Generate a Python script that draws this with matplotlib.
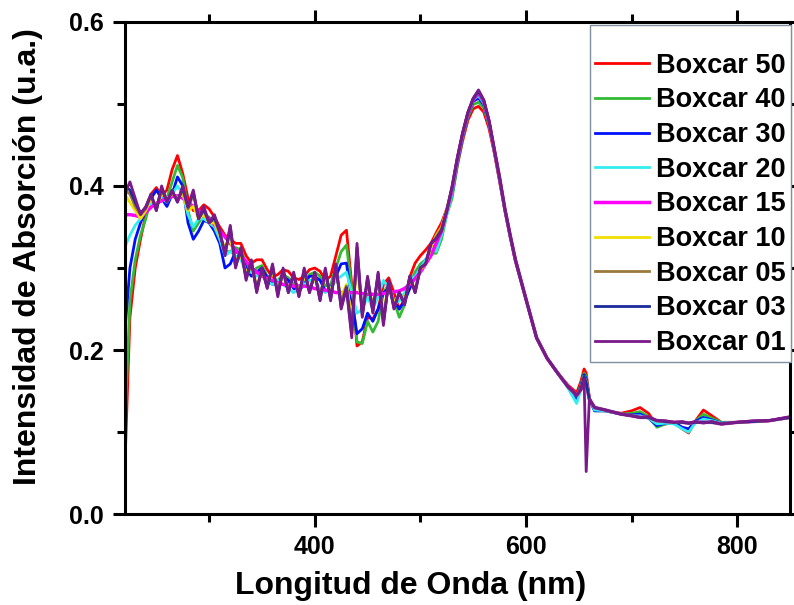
import numpy as np
import matplotlib.pyplot as plt
from matplotlib.ticker import MultipleLocator, FormatStrFormatter

plt.rcParams['font.family'] = ['Liberation Sans', 'DejaVu Sans']
plt.rcParams['font.weight'] = 'bold'

# wavelength grid (nm): 5 nm steps up to 525, then the peak / tail points
wl_front = list(range(220, 530, 5))
wl_tail = [530, 535, 540, 545, 550, 555, 560, 565, 570, 575, 580, 585, 590, 600, 610, 620,
           630, 640, 648, 652, 655, 657, 660, 665, 675, 690, 700, 708, 716, 724, 732, 740,
           748, 754, 760, 768, 776, 785, 800, 815, 830, 850]
wavelength = wl_front + wl_tail

labels = ['Boxcar 50', 'Boxcar 40', 'Boxcar 30', 'Boxcar 20', 'Boxcar 15',
          'Boxcar 10', 'Boxcar 05', 'Boxcar 03', 'Boxcar 01']

boxcar_50 = [
    0.05, 0.24, 0.30, 0.335, 0.365, 0.39, 0.398, 0.388, 0.395, 0.42,
    0.437, 0.415, 0.385, 0.37, 0.37, 0.377, 0.372, 0.362, 0.35, 0.34,
    0.335, 0.33, 0.33, 0.315, 0.306, 0.31, 0.31, 0.298, 0.289, 0.292,
    0.298, 0.296, 0.288, 0.286, 0.29, 0.298, 0.30, 0.296, 0.285, 0.29,
    0.315, 0.34, 0.346, 0.28, 0.205, 0.21, 0.24, 0.238, 0.25, 0.28,
    0.288, 0.27, 0.25, 0.262, 0.289, 0.306, 0.315, 0.322, 0.33, 0.343,
    0.355, 0.372,
    0.39, 0.425, 0.455, 0.48, 0.494, 0.497, 0.49, 0.47, 0.44, 0.405,
    0.37, 0.338, 0.308, 0.262, 0.215, 0.19, 0.172, 0.157, 0.148, 0.162,
    0.177, 0.172, 0.142, 0.128, 0.126, 0.123, 0.126, 0.13, 0.123, 0.108,
    0.11, 0.112, 0.104, 0.099, 0.113, 0.127, 0.12, 0.112, 0.112, 0.113,
    0.114, 0.118]

boxcar_40 = [
    0.10, 0.26, 0.31, 0.34, 0.36, 0.385, 0.395, 0.385, 0.385, 0.405,
    0.425, 0.41, 0.37, 0.345, 0.355, 0.365, 0.362, 0.352, 0.34, 0.32,
    0.32, 0.325, 0.322, 0.305, 0.295, 0.30, 0.303, 0.29, 0.282, 0.285,
    0.292, 0.288, 0.28, 0.278, 0.283, 0.292, 0.295, 0.29, 0.278, 0.28,
    0.30, 0.32, 0.328, 0.275, 0.21, 0.208, 0.235, 0.222, 0.235, 0.27,
    0.28, 0.26, 0.24, 0.255, 0.28, 0.295, 0.305, 0.31, 0.318, 0.318,
    0.335, 0.365,
    0.385, 0.425, 0.458, 0.484, 0.499, 0.502, 0.495, 0.474, 0.442, 0.407,
    0.37, 0.338, 0.309, 0.262, 0.215, 0.19, 0.172, 0.155, 0.142, 0.158,
    0.172, 0.168, 0.14, 0.126, 0.126, 0.122, 0.123, 0.125, 0.119, 0.106,
    0.11, 0.112, 0.105, 0.101, 0.113, 0.122, 0.117, 0.112, 0.112, 0.113,
    0.114, 0.118]

boxcar_30 = [
    0.22, 0.30, 0.335, 0.355, 0.37, 0.385, 0.395, 0.385, 0.375, 0.39,
    0.411, 0.40, 0.355, 0.335, 0.345, 0.358, 0.355, 0.345, 0.33, 0.30,
    0.305, 0.32, 0.318, 0.30, 0.29, 0.295, 0.30, 0.288, 0.28, 0.282,
    0.29, 0.285, 0.275, 0.272, 0.28, 0.29, 0.29, 0.285, 0.272, 0.275,
    0.29, 0.305, 0.306, 0.26, 0.22, 0.226, 0.245, 0.235, 0.25, 0.27,
    0.275, 0.26, 0.25, 0.26, 0.275, 0.29, 0.30, 0.31, 0.32, 0.33,
    0.345, 0.37,
    0.39, 0.428, 0.46, 0.486, 0.503, 0.507, 0.499, 0.476, 0.443, 0.408,
    0.371, 0.339, 0.309, 0.262, 0.215, 0.19, 0.172, 0.155, 0.14, 0.156,
    0.17, 0.165, 0.14, 0.126, 0.126, 0.122, 0.121, 0.122, 0.117, 0.108,
    0.111, 0.112, 0.106, 0.104, 0.113, 0.118, 0.115, 0.111, 0.112, 0.113,
    0.114, 0.118]

boxcar_20 = [
    0.325, 0.34, 0.352, 0.36, 0.37, 0.38, 0.375, 0.385, 0.38, 0.39,
    0.40, 0.39, 0.365, 0.35, 0.36, 0.36, 0.355, 0.35, 0.335, 0.315,
    0.32, 0.315, 0.31, 0.295, 0.295, 0.29, 0.295, 0.283, 0.28, 0.285,
    0.28, 0.275, 0.27, 0.275, 0.28, 0.285, 0.285, 0.275, 0.27, 0.275,
    0.285, 0.29, 0.295, 0.27, 0.245, 0.25, 0.265, 0.25, 0.265, 0.285,
    0.275, 0.255, 0.26, 0.27, 0.285, 0.29, 0.30, 0.31, 0.325, 0.32,
    0.34, 0.365,
    0.39, 0.43, 0.462, 0.487, 0.505, 0.51, 0.501, 0.477, 0.443, 0.409,
    0.371, 0.339, 0.309, 0.262, 0.215, 0.19, 0.172, 0.153, 0.135, 0.152,
    0.168, 0.162, 0.14, 0.127, 0.126, 0.122, 0.12, 0.12, 0.117, 0.11,
    0.111, 0.11, 0.104, 0.10, 0.111, 0.116, 0.114, 0.111, 0.112, 0.113,
    0.114, 0.118]

boxcar_15 = [
    0.365, 0.365, 0.364, 0.362, 0.368, 0.374, 0.379, 0.382, 0.385, 0.387,
    0.388, 0.385, 0.38, 0.375, 0.37, 0.365, 0.36, 0.353, 0.345, 0.338,
    0.33, 0.322, 0.315, 0.308, 0.30, 0.295, 0.29, 0.287, 0.285, 0.282,
    0.28, 0.279, 0.278, 0.278, 0.278, 0.277, 0.275, 0.274, 0.273, 0.272,
    0.27, 0.27, 0.27, 0.27, 0.27, 0.269, 0.268, 0.268, 0.268, 0.269,
    0.27, 0.271, 0.272, 0.275, 0.28, 0.287, 0.295, 0.305, 0.315, 0.33,
    0.345, 0.37,
    0.395, 0.432, 0.463, 0.488, 0.505, 0.513, 0.503, 0.478, 0.444, 0.41,
    0.372, 0.34, 0.31, 0.262, 0.215, 0.19, 0.172, 0.155, 0.145, 0.152,
    0.165, 0.16, 0.14, 0.13, 0.127, 0.122, 0.12, 0.118, 0.118, 0.114,
    0.113, 0.112, 0.112, 0.111, 0.112, 0.112, 0.112, 0.11, 0.112, 0.113,
    0.114, 0.118]

boxcar_10 = [
    0.39, 0.38, 0.37, 0.36, 0.37, 0.385, 0.375, 0.39, 0.385, 0.39,
    0.385, 0.39, 0.37, 0.375, 0.36, 0.365, 0.355, 0.355, 0.34, 0.325,
    0.335, 0.31, 0.315, 0.295, 0.30, 0.28, 0.295, 0.28, 0.295, 0.275,
    0.29, 0.275, 0.288, 0.272, 0.29, 0.275, 0.288, 0.268, 0.29, 0.27,
    0.295, 0.265, 0.28, 0.24, 0.30, 0.25, 0.28, 0.255, 0.285, 0.245,
    0.28, 0.258, 0.268, 0.262, 0.285, 0.275, 0.298, 0.305, 0.325, 0.34,
    0.35, 0.372,
    0.398, 0.433, 0.464, 0.489, 0.506, 0.515, 0.504, 0.479, 0.444, 0.41,
    0.372, 0.34, 0.31, 0.262, 0.215, 0.19, 0.172, 0.155, 0.145, 0.152,
    0.168, 0.16, 0.14, 0.13, 0.127, 0.122, 0.12, 0.118, 0.118, 0.114,
    0.113, 0.112, 0.112, 0.111, 0.112, 0.112, 0.112, 0.11, 0.112, 0.113,
    0.114, 0.118]

boxcar_05 = [
    0.395, 0.39, 0.375, 0.365, 0.372, 0.388, 0.372, 0.395, 0.382, 0.392,
    0.382, 0.395, 0.372, 0.39, 0.36, 0.37, 0.355, 0.36, 0.342, 0.32,
    0.345, 0.305, 0.32, 0.29, 0.305, 0.275, 0.298, 0.277, 0.30, 0.27,
    0.295, 0.272, 0.29, 0.268, 0.295, 0.272, 0.292, 0.263, 0.295, 0.265,
    0.30, 0.258, 0.278, 0.228, 0.315, 0.245, 0.285, 0.25, 0.29, 0.238,
    0.282, 0.253, 0.27, 0.258, 0.288, 0.272, 0.30, 0.305, 0.328, 0.338,
    0.348, 0.371,
    0.398, 0.434, 0.464, 0.489, 0.506, 0.515, 0.504, 0.479, 0.444, 0.41,
    0.372, 0.34, 0.31, 0.262, 0.215, 0.19, 0.172, 0.155, 0.145, 0.152,
    0.167, 0.16, 0.14, 0.13, 0.127, 0.122, 0.12, 0.118, 0.118, 0.114,
    0.113, 0.112, 0.112, 0.111, 0.112, 0.112, 0.112, 0.11, 0.112, 0.113,
    0.114, 0.118]

boxcar_03 = [
    0.40, 0.395, 0.38, 0.367, 0.374, 0.39, 0.37, 0.398, 0.381, 0.394,
    0.381, 0.398, 0.374, 0.393, 0.36, 0.372, 0.355, 0.362, 0.344, 0.317,
    0.35, 0.302, 0.322, 0.287, 0.308, 0.272, 0.30, 0.276, 0.303, 0.267,
    0.298, 0.27, 0.293, 0.266, 0.298, 0.27, 0.294, 0.261, 0.298, 0.262,
    0.303, 0.252, 0.276, 0.22, 0.325, 0.242, 0.288, 0.247, 0.293, 0.233,
    0.284, 0.251, 0.27, 0.256, 0.29, 0.27, 0.30, 0.305, 0.33, 0.336,
    0.346, 0.37,
    0.398, 0.433, 0.464, 0.489, 0.506, 0.515, 0.504, 0.479, 0.444, 0.41,
    0.372, 0.34, 0.31, 0.262, 0.215, 0.19, 0.172, 0.155, 0.145, 0.152,
    0.168, 0.16, 0.14, 0.13, 0.127, 0.122, 0.12, 0.118, 0.118, 0.114,
    0.113, 0.112, 0.112, 0.111, 0.112, 0.112, 0.112, 0.11, 0.112, 0.113,
    0.114, 0.118]

boxcar_01 = [
    0.39, 0.405, 0.385, 0.365, 0.375, 0.39, 0.37, 0.40, 0.38, 0.395,
    0.38, 0.40, 0.375, 0.395, 0.36, 0.375, 0.355, 0.365, 0.345, 0.315,
    0.352, 0.30, 0.325, 0.285, 0.31, 0.27, 0.30, 0.275, 0.305, 0.265,
    0.30, 0.27, 0.295, 0.265, 0.30, 0.27, 0.295, 0.26, 0.30, 0.26,
    0.305, 0.25, 0.275, 0.215, 0.33, 0.24, 0.29, 0.245, 0.295, 0.23,
    0.285, 0.25, 0.27, 0.255, 0.29, 0.27, 0.30, 0.305, 0.33, 0.335,
    0.345, 0.37,
    0.40, 0.435, 0.465, 0.49, 0.507, 0.517, 0.505, 0.48, 0.445, 0.41,
    0.372, 0.34, 0.31, 0.262, 0.215, 0.19, 0.172, 0.155, 0.145, 0.152,
    0.165, 0.052, 0.14, 0.13, 0.127, 0.122, 0.12, 0.118, 0.119, 0.114,
    0.114, 0.112, 0.113, 0.111, 0.113, 0.111, 0.113, 0.11, 0.112, 0.114,
    0.114, 0.119]

series = [boxcar_50, boxcar_40, boxcar_30, boxcar_20, boxcar_15,
          boxcar_10, boxcar_05, boxcar_03, boxcar_01]
colors = ['#ff0000', '#33bb33', '#0010ff', '#33eeee', '#ff00ff',
          '#f0e000', '#9a7a3a', '#1a2a9a', '#7a1a8a']
widths = [2, 2, 2, 2, 2.5, 2, 2, 2, 2]

fig = plt.figure(figsize=(7.94, 6.05), dpi=100)
ax = fig.add_axes([0.157, 0.150, 0.838, 0.814])

for y, c, lw, lab in zip(series, colors, widths, labels):
    ax.plot(wavelength, y, color=c, lw=lw, label=lab)

ax.set_xlim(220, 850)
ax.set_ylim(0, 0.6)
ax.xaxis.set_major_locator(MultipleLocator(200))
ax.xaxis.set_minor_locator(MultipleLocator(100))
ax.yaxis.set_major_locator(MultipleLocator(0.2))
ax.yaxis.set_minor_locator(MultipleLocator(0.1))
ax.yaxis.set_major_formatter(FormatStrFormatter('%.1f'))

for s in ax.spines.values():
    s.set_linewidth(2.2)
ax.tick_params(which='major', length=9, width=2.2, labelsize=18, direction='out',
               top=True, right=True, pad=6)
ax.tick_params(which='minor', length=6, width=2.2, direction='out', top=True, right=True)

ax.set_xlabel('Longitud de Onda (nm)', fontsize=23, fontweight='bold')
ax.set_ylabel('Intensidad de Absorción (u.a.)', fontsize=23, fontweight='bold')
ax.xaxis.set_label_coords(0.43, -0.116)
ax.yaxis.set_label_coords(-0.122, 0.524)

leg = ax.legend(loc='upper left', bbox_to_anchor=(0.699, 0.994), fontsize=19.5,
                frameon=True, fancybox=False, edgecolor='#8090a0', framealpha=1,
                handlelength=2.0, handletextpad=0.26, labelspacing=0.32,
                borderpad=0.2, borderaxespad=0, title=' ', title_fontsize=10)
leg.get_frame().set_linewidth(1)
for t in leg.get_texts():
    t.set_fontweight('bold')

fig.savefig('out.png', dpi=100)
